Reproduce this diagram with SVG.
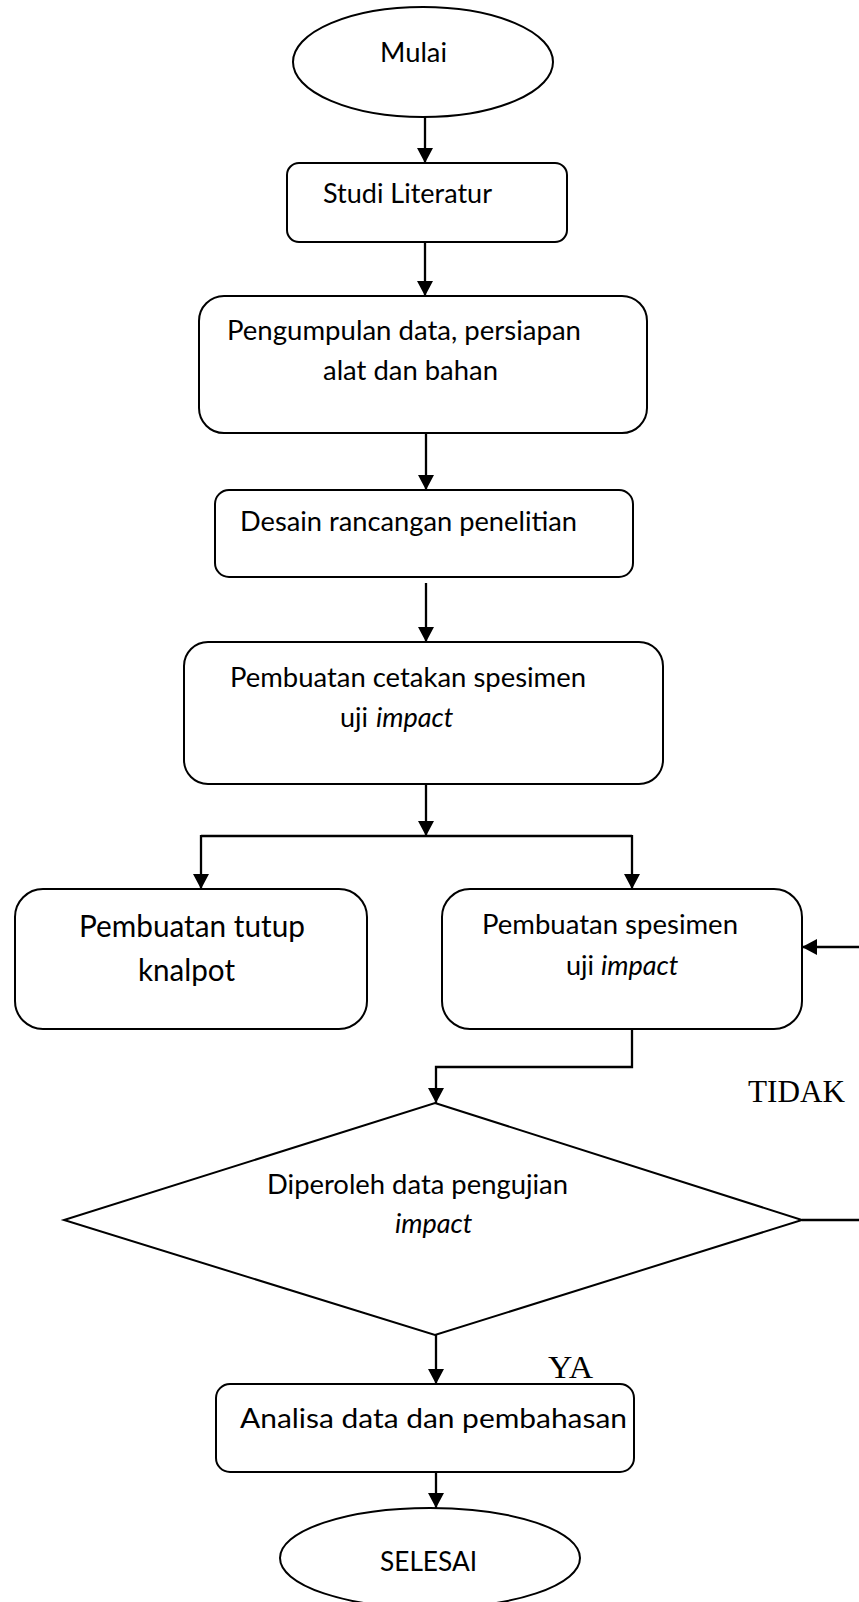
<svg xmlns="http://www.w3.org/2000/svg" width="859" height="1602" viewBox="0 0 859 1602">
<style>
.shape{fill:#fff;stroke:#000;stroke-width:2}
.conn{fill:none;stroke:#000;stroke-width:2.3}
.t{font-family:Lato,"Liberation Sans",sans-serif;font-size:27px;fill:#000}
.tb{font-family:Lato,"Liberation Sans",sans-serif;font-size:30px;fill:#000}
.it{font-style:italic}
.lab{font-family:"Liberation Serif",serif;font-size:32px;fill:#000}
</style>
<defs>
<marker id="ah" viewBox="0 0 15 16" refX="15" refY="8" markerWidth="15" markerHeight="16" markerUnits="userSpaceOnUse" orient="auto">
<path d="M0,0 L15,8 L0,16 z" fill="#000"/>
</marker>
</defs>
<rect width="859" height="1602" fill="#fff"/>
<g id="connectors">
<line class="conn" x1="425" y1="117" x2="425" y2="163" marker-end="url(#ah)"/>
<line class="conn" x1="425" y1="242" x2="425" y2="296" marker-end="url(#ah)"/>
<line class="conn" x1="426" y1="433" x2="426" y2="490" marker-end="url(#ah)"/>
<line class="conn" x1="426" y1="583" x2="426" y2="642" marker-end="url(#ah)"/>
<line class="conn" x1="426" y1="780" x2="426" y2="836" marker-end="url(#ah)"/>
<polyline class="conn" points="201,836 632,836"/>
<line class="conn" x1="201" y1="835" x2="201" y2="889" marker-end="url(#ah)"/>
<line class="conn" x1="632" y1="835" x2="632" y2="889" marker-end="url(#ah)"/>
<polyline class="conn" points="632,1029 632,1067 436,1067 436,1103" marker-end="url(#ah)"/>
<line class="conn" x1="859" y1="947" x2="802" y2="947" marker-end="url(#ah)"/>
<line class="conn" x1="802" y1="1220" x2="859" y2="1220"/>
<line class="conn" x1="436" y1="1335" x2="436" y2="1384" marker-end="url(#ah)"/>
<line class="conn" x1="436" y1="1471" x2="436" y2="1508" marker-end="url(#ah)"/>
</g>
<g id="mulai">
<ellipse class="shape" cx="423" cy="62" rx="130" ry="55"/>
<text class="t" x="380" y="62" textLength="67" lengthAdjust="spacingAndGlyphs">Mulai</text>
</g>
<g id="studi-literatur">
<rect class="shape" x="287" y="163" width="280" height="79" rx="12"/>
<text class="t" x="323" y="203" textLength="169" lengthAdjust="spacingAndGlyphs">Studi Literatur</text>
</g>
<g id="pengumpulan-data">
<rect class="shape" x="199" y="296" width="448" height="137" rx="25"/>
<text class="t" x="227" y="340" textLength="354" lengthAdjust="spacingAndGlyphs">Pengumpulan data, persiapan</text>
<text class="t" x="323" y="380" textLength="175" lengthAdjust="spacingAndGlyphs">alat dan bahan</text>
</g>
<g id="desain">
<rect class="shape" x="215" y="490" width="418" height="87" rx="14"/>
<text class="t" x="240" y="531" textLength="337" lengthAdjust="spacingAndGlyphs">Desain rancangan penelitian</text>
</g>
<g id="cetakan">
<rect class="shape" x="184" y="642" width="479" height="142" rx="24"/>
<text class="t" x="230" y="687" textLength="356" lengthAdjust="spacingAndGlyphs">Pembuatan cetakan spesimen</text>
<text class="t" y="727"><tspan x="340">uji</tspan><tspan class="it" x="376">impact</tspan></text>
</g>
<g id="tutup-knalpot">
<rect class="shape" x="15" y="889" width="352" height="140" rx="28"/>
<text class="tb" x="79" y="937" textLength="226" lengthAdjust="spacingAndGlyphs">Pembuatan tutup</text>
<text class="tb" x="138" y="981" textLength="97" lengthAdjust="spacingAndGlyphs">knalpot</text>
</g>
<g id="spesimen">
<rect class="shape" x="442" y="889" width="360" height="140" rx="28"/>
<text class="t" x="482" y="934" textLength="256" lengthAdjust="spacingAndGlyphs">Pembuatan spesimen</text>
<text class="t" y="975"><tspan x="566">uji</tspan><tspan class="it" x="601">impact</tspan></text>
</g>
<g id="keputusan">
<polygon class="shape" points="435,1103 802,1220 435,1335 64,1220"/>
<text class="t" x="267" y="1194" textLength="301" lengthAdjust="spacingAndGlyphs">Diperoleh data pengujian</text>
<text class="t it" x="395" y="1233">impact</text>
</g>
<g id="analisa">
<rect class="shape" x="216" y="1384" width="418" height="88" rx="14"/>
<text class="t" x="240" y="1428" textLength="387" lengthAdjust="spacingAndGlyphs">Analisa data dan pembahasan</text>
</g>
<g id="selesai">
<ellipse class="shape" cx="430" cy="1558" rx="150" ry="50"/>
<text class="t" x="380" y="1571" textLength="97" lengthAdjust="spacingAndGlyphs">SELESAI</text>
</g>
<g id="labels">
<text class="lab" x="748" y="1102" textLength="97" lengthAdjust="spacingAndGlyphs">TIDAK</text>
<text class="lab" x="548" y="1378" textLength="45" lengthAdjust="spacingAndGlyphs">YA</text>
</g>
</svg>
